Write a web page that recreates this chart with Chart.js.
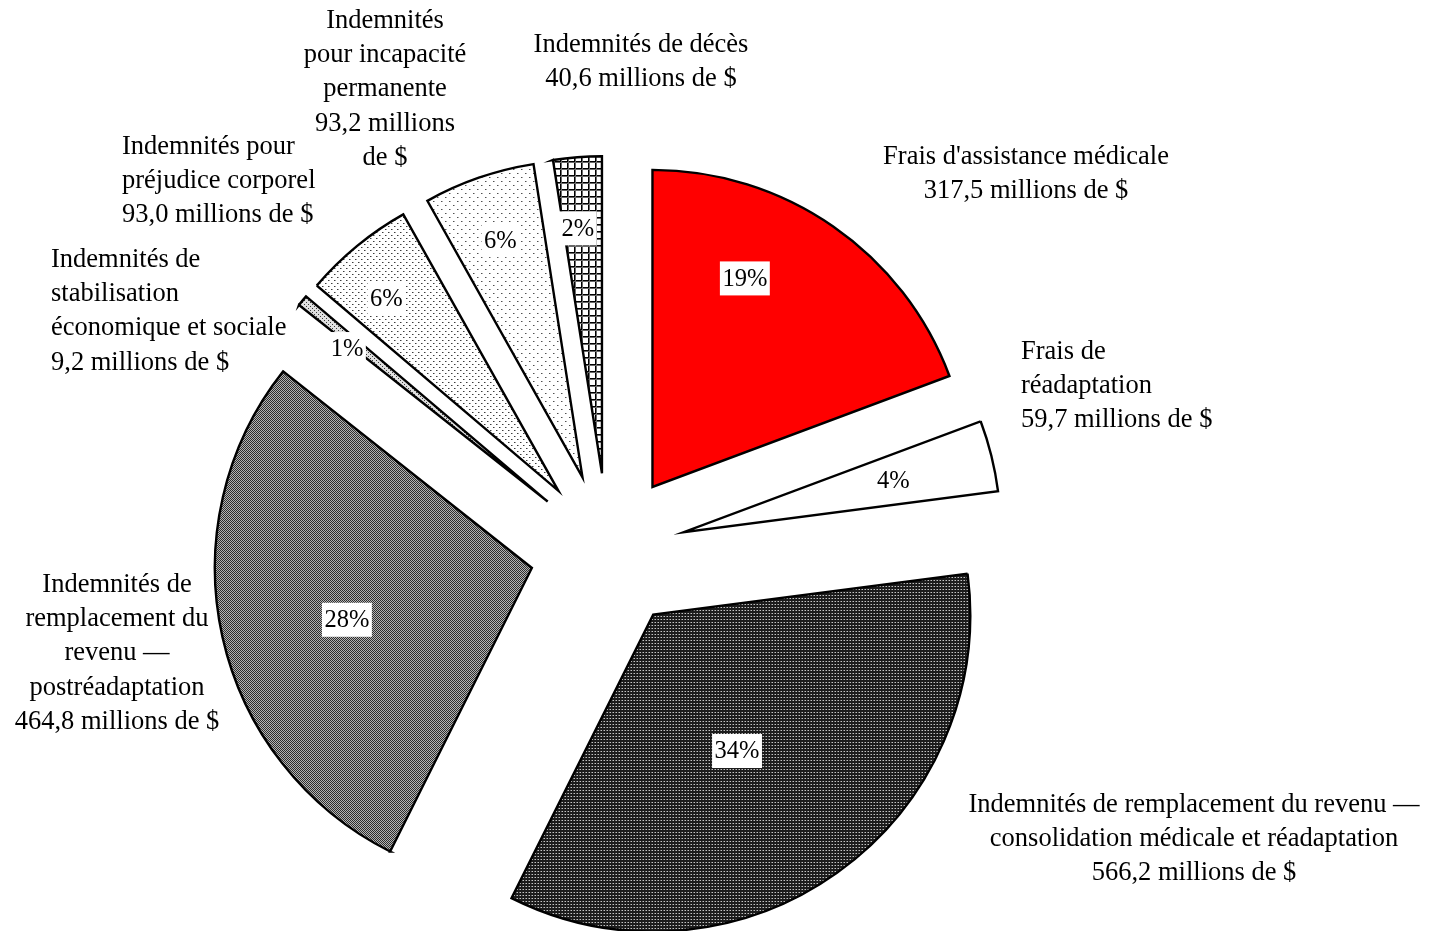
<!DOCTYPE html>
<html lang="fr">
<head>
<meta charset="utf-8">
<title>Indemnités</title>
<script src="https://cdn.jsdelivr.net/npm/chart.js@4/dist/chart.umd.min.js"></script>
<style>
  html, body { margin: 0; padding: 0; background: #fff; }
  canvas { display: block; }
</style>
</head>
<body>
<canvas id="indemnites" width="1430" height="931"></canvas>
<script>
const categories = [
  "Frais d'assistance médicale",
  "Frais de réadaptation",
  "Indemnités de remplacement du revenu — consolidation médicale et réadaptation",
  "Indemnités de remplacement du revenu — postréadaptation",
  "Indemnités de stabilisation économique et sociale",
  "Indemnités pour préjudice corporel",
  "Indemnités pour incapacité permanente",
  "Indemnités de décès",
];
// millions de $
const values = [317.5, 59.7, 566.2, 464.8, 9.2, 93.0, 93.2, 40.6];

// line breaks of each callout, {n} is replaced by the amount
const labelWraps = [
  "Frais d'assistance médicale|{n} millions de $",
  "Frais de|réadaptation|{n} millions de $",
  "Indemnités de remplacement du revenu —|consolidation médicale et réadaptation|{n} millions de $",
  "Indemnités de|remplacement du|revenu —|postréadaptation|{n} millions de $",
  "Indemnités de|stabilisation|économique et sociale|{n} millions de $",
  "Indemnités pour|préjudice corporel|{n} millions de $",
  "Indemnités|pour incapacité|permanente|{n} millions|de $",
  "Indemnités de décès|{n} millions de $",
];

// callout anchor: x, y of first line, alignment
const calloutSpots = [
  [1026, 157, "center"],
  [1021, 352, "left"],
  [1194, 805, "center"],
  [117, 585, "center"],
  [51, 260, "left"],
  [122, 147, "left"],
  [385, 21, "center"],
  [641, 45, "center"],
];

// percentage tags: angle nudge from the slice middle (deg), distance from pie centre
const pctSpots = [
  [-8.1, 305], [0, 294], [2.6, 238], [-2.2, 270],
  [-1.6, 330], [-1.8, 336], [0, 329], [-0.9, 324],
];

const EXPLODE = 78;
const serif = '"Liberation Serif", "Times New Roman", serif';

function tile(size, bg, paint) {
  const c = document.createElement("canvas");
  c.width = size;
  c.height = size;
  const g = c.getContext("2d");
  g.fillStyle = bg;
  g.fillRect(0, 0, size, size);
  paint(g);
  return g.createPattern(c, "repeat");
}
function px(g, color, pts) {
  g.fillStyle = color;
  pts.forEach(([x, y]) => g.fillRect(x, y, 1, 1));
}

const fills = [
  "#ff0000",
  "#ffffff",
  tile(3, "#1c1c1c", g => { px(g, "#c4c4c4", [[1, 1]]); px(g, "#6e6e6e", [[0, 1]]); }),
  tile(2, "#b4b4b4", g => px(g, "#2e2e2e", [[0, 0], [1, 1]])),
  tile(4, "#e0e0e0", g => px(g, "#3c3c3c", [[0, 0], [2, 2]])),
  tile(6, "#ffffff", g => { px(g, "#3c3c3c", [[1, 1], [4, 4]]); px(g, "#a0a0a0", [[2, 1], [5, 4]]); }),
  tile(8, "#ffffff", g => { px(g, "#505050", [[1, 1], [5, 5]]); px(g, "#aaa", [[2, 1], [6, 5]]); }),
  tile(7, "#ffffff", g => {
    g.fillStyle = "#000"; g.fillRect(0, 0, 7, 1); g.fillRect(0, 0, 1, 7);
    g.fillStyle = "#6a6a6a"; g.fillRect(0, 1, 7, 1); g.fillRect(1, 0, 1, 7);
  }),
];

// pull every slice out of the centre by the same distance
const explodePlugin = {
  id: "explode",
  beforeDatasetsDraw(chart) {
    const area = chart.chartArea;
    const cx = (area.left + area.right) / 2;
    const cy = (area.top + area.bottom) / 2;
    chart.getDatasetMeta(0).data.forEach(arc => {
      const mid = (arc.startAngle + arc.endAngle) / 2;
      arc.x = cx + Math.cos(mid) * EXPLODE;
      arc.y = cy + Math.sin(mid) * EXPLODE;
    });
  },
};

const labelPlugin = {
  id: "labels",
  afterDatasetsDraw(chart) {
    const ctx = chart.ctx;
    const area = chart.chartArea;
    const cx = (area.left + area.right) / 2;
    const cy = (area.top + area.bottom) / 2;
    const total = values.reduce((a, b) => a + b, 0);
    ctx.save();
    ctx.textBaseline = "middle";

    // percentages in white boxes
    ctx.font = "24.5px " + serif;
    ctx.textAlign = "center";
    chart.getDatasetMeta(0).data.forEach((arc, i) => {
      const mid = (arc.startAngle + arc.endAngle) / 2 + pctSpots[i][0] * Math.PI / 180;
      const x = cx + Math.cos(mid) * pctSpots[i][1];
      const y = cy + Math.sin(mid) * pctSpots[i][1];
      const txt = Math.round(values[i] / total * 100) + "%";
      const w = ctx.measureText(txt).width + 5;
      ctx.fillStyle = "#fff";
      ctx.fillRect(x - w / 2, y - 17, w, 34);
      ctx.fillStyle = "#000";
      ctx.fillText(txt, x, y + 1);
    });

    // callouts
    ctx.font = "26.5px " + serif;
    labelWraps.forEach((wrap, i) => {
      const n = values[i].toFixed(1).replace(".", ",");
      const lines = wrap.replace("{n}", n).split("|");
      const [x, y, align] = calloutSpots[i];
      ctx.textAlign = align;
      lines.forEach((line, k) => ctx.fillText(line, x, y + k * 34.2));
    });
    ctx.restore();
  },
};

new Chart(document.getElementById("indemnites"), {
  type: "pie",
  data: {
    labels: categories,
    datasets: [
      {
        data: values,
        backgroundColor: fills,
        borderColor: "#000",
        borderWidth: 2.4,
        borderJoinStyle: "miter",
      },
    ],
  },
  options: {
    responsive: false,
    animation: false,
    events: [],
    radius: 317,
    layout: { padding: { left: 0, right: 214, top: 171, bottom: 0 } },
    plugins: {
      legend: { display: false },
      tooltip: { enabled: false },
    },
  },
  plugins: [explodePlugin, labelPlugin],
});
</script>
</body>
</html>
